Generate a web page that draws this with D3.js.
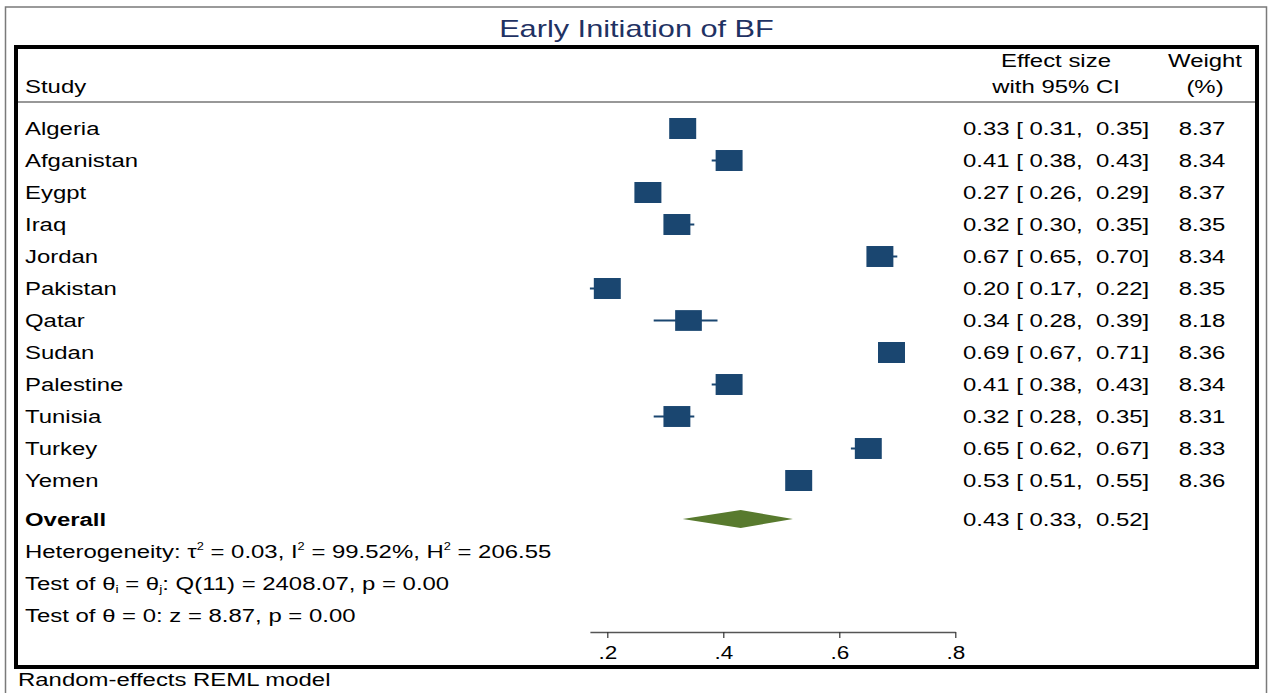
<!DOCTYPE html>
<html>
<head>
<meta charset="utf-8">
<script src="https://cdn.jsdelivr.net/npm/d3@7"></script>
<style>
  html, body { margin: 0; padding: 0; background: #fff; }
  svg { display: block; }
  text { font-family: "Liberation Sans", Arial, Helvetica, sans-serif; white-space: pre; }
</style>
</head>
<body>
<svg id="chart" width="1270" height="693"></svg>
<script>
// Study-level estimates (proportion with early initiation of breastfeeding)
const studies  = ["Algeria", "Afganistan", "Eygpt", "Iraq", "Jordan", "Pakistan", "Qatar", "Sudan", "Palestine", "Tunisia", "Turkey", "Yemen"];
const effect   = [0.33, 0.41, 0.27, 0.32, 0.67, 0.20, 0.34, 0.69, 0.41, 0.32, 0.65, 0.53];
const ciLow    = [0.31, 0.38, 0.26, 0.30, 0.65, 0.17, 0.28, 0.67, 0.38, 0.28, 0.62, 0.51];
const ciHigh   = [0.35, 0.43, 0.29, 0.35, 0.70, 0.22, 0.39, 0.71, 0.43, 0.35, 0.67, 0.55];
const weights  = [8.37, 8.34, 8.37, 8.35, 8.34, 8.35, 8.18, 8.36, 8.34, 8.31, 8.33, 8.36];

// Pooled random-effects estimate
const overallES = 0.43;
const overallLo = 0.33;
const overallHi = 0.52;

const tickValues = [0.2, 0.4, 0.6, 0.8];
const tickLabels = [".2", ".4", ".6", ".8"];

const title = "Early Initiation of BF";
const footer = "Random-effects REML model";

// ---------------------------------------------------------------
const svg = d3.select("#chart");
const SX = 1.28;          // horizontal stretch applied to all text
const FS = 18.7;          // body font size
const NAVY = "#1a4670";
const GREEN = "#587a2e";

const fmt = d3.format(".2f");

// helper: text drawn with horizontal stretch
function txt(parent, x, y, str, opts = {}) {
  const t = parent.append("text")
    .attr("transform", `translate(${x},${y}) scale(${SX},1)`)
    .attr("font-size", opts.size || FS)
    .attr("text-anchor", opts.anchor || "start")
    .attr("font-weight", opts.weight || "normal")
    .style("fill", opts.fill || "#000")
    .attr("xml:space", "preserve");
  if (str !== null) t.text(str);
  return t;
}

// outer graph border
svg.append("rect")
  .attr("x", 5.5).attr("y", 7).attr("width", 1261).attr("height", 720)
  .attr("fill", "#fff").attr("stroke", "#7a7a7a").attr("stroke-width", 1.5);

// title
txt(svg, 636.5, 37, title, { size: 24, anchor: "middle", fill: "#1f3263" });

// plot region frame
svg.append("rect")
  .attr("x", 16).attr("y", 47).attr("width", 1241).attr("height", 620)
  .attr("fill", "#fff").attr("stroke", "#000").attr("stroke-width", 4);

// column headers
txt(svg, 25, 93, "Study");
txt(svg, 1056, 67, "Effect size", { anchor: "middle" });
txt(svg, 1056, 93, "with 95% CI", { anchor: "middle" });
txt(svg, 1205, 67, "Weight", { anchor: "middle" });
txt(svg, 1205, 93, "(%)", { anchor: "middle" });

svg.append("line")
  .attr("x1", 18).attr("x2", 1255).attr("y1", 102).attr("y2", 102)
  .attr("stroke", "#333").attr("stroke-width", 1.2);

// scales
const x = d3.scaleLinear()
  .domain([d3.min(ciLow), 0.8])
  .range([607.3 + (d3.min(ciLow) - 0.2) * 580, 955.3]);

const rowIdx = d3.range(studies.length);
const y = d3.scalePoint()
  .domain(rowIdx)
  .range([128.5, 128.5 + 32 * (studies.length - 1)]);

const yOverall = 519;
const baseOff = 0.358 * FS;

const maxW = d3.max(weights);
const boxW = 27, boxH = 21;

// rows
const rows = svg.append("g").attr("class", "rows");
rowIdx.forEach(i => {
  const cy = y(i);
  txt(rows, 25, cy + baseOff, studies[i]);
  txt(rows, 963, cy + baseOff, `${fmt(effect[i])} [ ${fmt(ciLow[i])},  ${fmt(ciHigh[i])}]`);
  txt(rows, 1202, cy + baseOff, fmt(weights[i]), { anchor: "middle" });

  rows.append("line")
    .attr("x1", x(ciLow[i])).attr("x2", x(ciHigh[i]))
    .attr("y1", cy).attr("y2", cy)
    .attr("stroke", NAVY).attr("stroke-width", 2);

  const s = Math.sqrt(weights[i] / maxW);
  rows.append("rect")
    .attr("x", x(effect[i]) - boxW * s / 2)
    .attr("y", cy - boxH * s / 2)
    .attr("width", boxW * s)
    .attr("height", boxH * s)
    .attr("fill", NAVY);
});

// overall diamond
const dia = [
  [x(overallLo), yOverall],
  [x(overallES), yOverall - 9],
  [x(overallHi), yOverall],
  [x(overallES), yOverall + 9]
];
svg.append("path")
  .attr("d", d3.line()(dia) + "Z")
  .attr("fill", GREEN);

txt(svg, 25, yOverall + baseOff, "Overall", { weight: "bold" });
txt(svg, 963, yOverall + baseOff, `${fmt(overallES)} [ ${fmt(overallLo)},  ${fmt(overallHi)}]`);

// heterogeneity statistics
const sup = (t, s) => t.append("tspan").attr("dy", -8).attr("font-size", 10).text(s);
const back = (t, s, d) => t.append("tspan").attr("dy", d).text(s);

let h = txt(svg, 25, 551 + baseOff, null);
h.append("tspan").text("Heterogeneity: τ");
sup(h, "2"); back(h, " = 0.03, I", 8);
sup(h, "2"); back(h, " = 99.52%, H", 8);
sup(h, "2"); back(h, " = 206.55", 8);

let q = txt(svg, 25, 583 + baseOff, null);
q.append("tspan").text("Test of θ");
q.append("tspan").attr("dy", 3).attr("font-size", 11).text("i");
q.append("tspan").attr("dy", -3).text(" = θ");
q.append("tspan").attr("dy", 3).attr("font-size", 11).text("j");
q.append("tspan").attr("dy", -3).text(": Q(11) = 2408.07, p = 0.00");

txt(svg, 25, 615 + baseOff, "Test of θ = 0: z = 8.87, p = 0.00");

// x axis
const axis = d3.axisBottom(x)
  .tickValues(tickValues)
  .tickFormat((d, i) => tickLabels[i])
  .tickSize(6)
  .tickSizeOuter(0)
  .tickPadding(9);

const ax = svg.append("g")
  .attr("transform", "translate(0,632)")
  .call(axis);
ax.select(".domain").attr("stroke", "#555").attr("stroke-width", 1.5);
ax.selectAll(".tick line").attr("stroke", "#333").attr("stroke-width", 1.2);
ax.selectAll(".tick text")
  .attr("font-size", 17.6)
  .attr("font-family", "'Liberation Sans', Arial, Helvetica, sans-serif")
  .attr("fill", "#000")
  .attr("transform", `scale(${SX},1)`);

// note below plot region
txt(svg, 18, 686, footer);
</script>
</body>
</html>
